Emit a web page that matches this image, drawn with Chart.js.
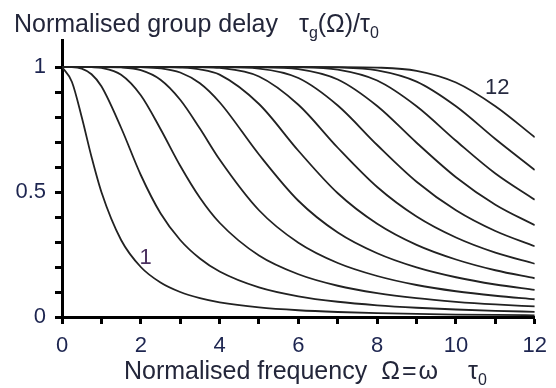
<!DOCTYPE html>
<html lang="en">
<head>
  <meta charset="UTF-8">
  <title>Normalised group delay</title>
  <style>
    * { margin: 0; padding: 0; box-sizing: border-box; }
    body { background: #fff; width: 556px; height: 388px; overflow: hidden; }
    .wrap { position: relative; width: 556px; height: 388px; }
    .label {
      position: absolute;
      font-family: 'Liberation Sans', Arial, sans-serif;
      font-size: 25px;
      line-height: 25px;
      color: #23263a;
      white-space: nowrap;
    }
    .label sub { font-size: 16px; vertical-align: -6px; line-height: 0; }
    #yTitle { left: 14px; top: 11px; }
    #xTitle { left: 124px; top: 358px; }
  </style>
</head>
<body>
<div class="wrap">
  <canvas id="chart" width="556" height="388"></canvas>
  <div class="label" id="yTitle">Normalised group delay <span style="margin-left:14px">τ</span><sub>g</sub>(Ω)/τ<sub>0</sub></div>
  <div class="label" id="xTitle">Normalised frequency<span style="margin-left:14px">Ω</span><span style="margin:0 2px">=</span>ω<span style="margin-left:30px">τ</span><sub>0</sub></div>
</div>

<script src="https://cdn.jsdelivr.net/npm/chart.js"></script>
<script>
  // normalised frequency samples
  const omega = [0, 0.25, 0.5, 0.75, 1, 1.5, 2, 2.5, 3, 3.5, 4, 5, 6, 7, 8, 9, 10, 11, 12];

  // normalised group delay, one array per filter order
  const order1  = [1, 0.941, 0.8, 0.64, 0.5, 0.308, 0.2, 0.138, 0.1, 0.0755, 0.0588, 0.0385, 0.027, 0.02, 0.0154, 0.0122, 0.0099, 0.0082, 0.0069];
  const order2  = [1, 0.9996, 0.9936, 0.971, 0.923, 0.757, 0.568, 0.415, 0.308, 0.234, 0.182, 0.1185, 0.0828, 0.061, 0.0468, 0.037, 0.03, 0.0248, 0.0208];
  const order3  = [1, 1, 1, 0.9993, 0.9964, 0.969, 0.887, 0.752, 0.605, 0.477, 0.377, 0.246, 0.171, 0.125, 0.0955, 0.0752, 0.0608, 0.0501, 0.0421];
  const order4  = [1, 1, 1, 1, 0.9999, 0.9983, 0.9874, 0.949, 0.869, 0.754, 0.63, 0.427, 0.297, 0.216, 0.164, 0.128, 0.103, 0.085, 0.071];
  const order5  = [1, 1, 1, 1, 1, 1, 0.9993, 0.9949, 0.978, 0.935, 0.859, 0.65, 0.465, 0.338, 0.255, 0.1985, 0.159, 0.13, 0.1085];
  const order6  = [1, 1, 1, 1, 1, 1, 1, 0.9997, 0.9979, 0.9906, 0.9695, 0.852, 0.665, 0.495, 0.373, 0.2885, 0.23, 0.187, 0.155];
  const order7  = [1, 1, 1, 1, 1, 1, 1, 1, 0.9999, 0.9992, 0.9961, 0.962, 0.849, 0.677, 0.52, 0.402, 0.318, 0.2575, 0.213];
  const order8  = [1, 1, 1, 1, 1, 1, 1, 1, 1, 0.9999, 0.9997, 0.9939, 0.956, 0.846, 0.688, 0.541, 0.427, 0.344, 0.283];
  const order9  = [1, 1, 1, 1, 1, 1, 1, 1, 1, 1, 1, 0.9993, 0.9916, 0.95, 0.844, 0.697, 0.559, 0.449, 0.367];
  const order10 = [1, 1, 1, 1, 1, 1, 1, 1, 1, 1, 1, 0.9999, 0.9989, 0.9893, 0.9458, 0.843, 0.705, 0.574, 0.469];
  const order11 = [1, 1, 1, 1, 1, 1, 1, 1, 1, 1, 1, 1, 0.9999, 0.9983, 0.9869, 0.9417, 0.843, 0.712, 0.588];
  const order12 = [1, 1, 1, 1, 1, 1, 1, 1, 1, 1, 1, 1, 1, 0.9998, 0.9977, 0.9847, 0.938, 0.843, 0.719];

  // ticks
  const xTickValues = [0, 1, 2, 3, 4, 5, 6, 7, 8, 9, 10, 11, 12];
  const xTickLabels = ['0', '', '2', '', '4', '', '6', '', '8', '', '10', '', '12'];
  const yTickValues = [0, 0.1, 0.2, 0.3, 0.4, 0.5, 0.6, 0.7, 0.8, 0.9, 1];
  const yTickLabels = ['0', '', '', '', '', '0.5', '', '', '', '', '1'];

  // curve annotations
  const curveLabels = [
    { text: '12', x: 11.05, y: 0.915, color: '#262a40' },
    { text: '1', x: 2.12, y: 0.236, color: '#4b3160' }
  ];

  const orders = [order1, order2, order3, order4, order5, order6, order7, order8, order9, order10, order11, order12];
  const font = "'Liberation Sans', Arial, sans-serif";
  const textColor = '#1d2550';

  const curveLabelPlugin = {
    id: 'curveLabels',
    afterDatasetsDraw(chart) {
      const { ctx, scales: { x, y } } = chart;
      ctx.save();
      ctx.font = '22px ' + font;
      ctx.textAlign = 'center';
      ctx.textBaseline = 'middle';
      curveLabels.forEach(l => {
        ctx.fillStyle = l.color;
        ctx.fillText(l.text, x.getPixelForValue(l.x), y.getPixelForValue(l.y));
      });
      ctx.restore();
    }
  };

  new Chart(document.getElementById('chart'), {
    type: 'line',
    data: {
      datasets: orders.map((vals, i) => ({
        label: 'n = ' + (i + 1),
        data: omega.map((w, j) => ({ x: w, y: vals[j] })),
        borderColor: '#222222',
        borderWidth: 1.8,
        pointRadius: 0,
        fill: false,
        cubicInterpolationMode: 'monotone'
      }))
    },
    options: {
      responsive: false,
      animation: false,
      layout: { padding: { top: 40, right: 13, left: 0, bottom: 0 } },
      plugins: {
        legend: { display: false },
        tooltip: { enabled: false }
      },
      scales: {
        x: {
          type: 'linear',
          min: 0,
          max: 12,
          afterBuildTicks: s => { s.ticks = xTickValues.map(v => ({ value: v })); },
          afterFit: s => { s.height = 71; },
          ticks: {
            autoSkip: false,
            maxRotation: 0,
            padding: 9,
            color: textColor,
            font: { family: font, size: 22 },
            callback: (v, i) => xTickLabels[i]
          },
          grid: { drawOnChartArea: false, drawTicks: true, tickLength: 7, tickWidth: 3, tickColor: '#000' },
          border: { display: true, color: '#000', width: 3 }
        },
        y: {
          min: 0,
          max: 1.108,
          afterBuildTicks: s => { s.ticks = yTickValues.map(v => ({ value: v })); },
          afterFit: s => { s.width = 62; },
          ticks: {
            autoSkip: false,
            padding: 9,
            color: textColor,
            font: { family: font, size: 22 },
            callback: (v, i) => yTickLabels[i]
          },
          grid: { drawOnChartArea: false, drawTicks: true, tickLength: 7, tickWidth: 3, tickColor: '#000' },
          border: { display: true, color: '#000', width: 3 }
        }
      }
    },
    plugins: [curveLabelPlugin]
  });
</script>
</body>
</html>
